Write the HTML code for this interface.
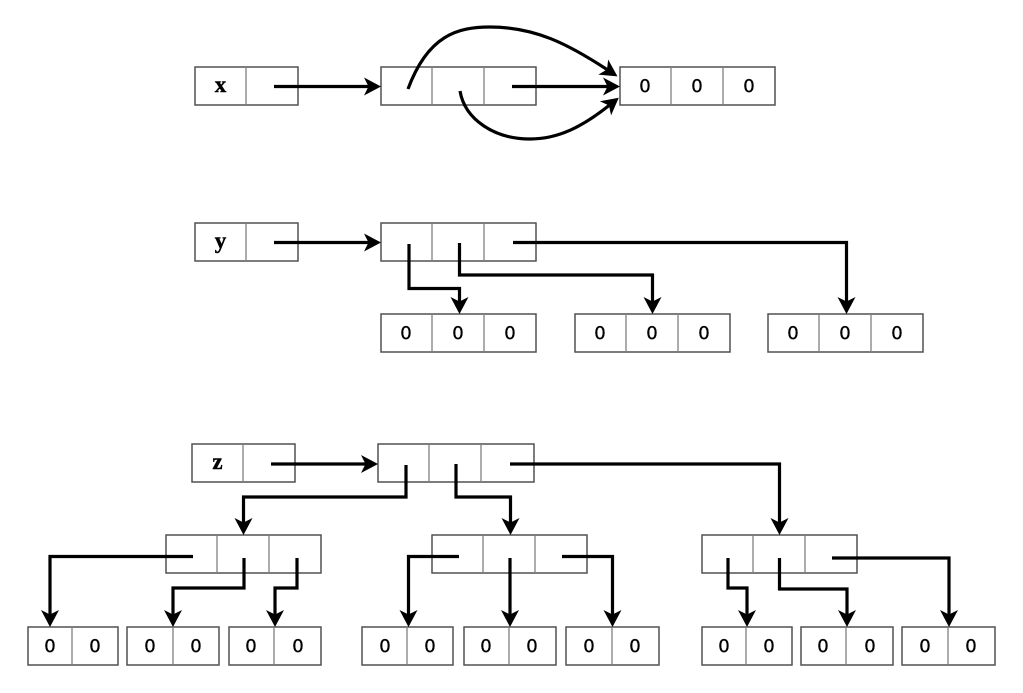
<!DOCTYPE html>
<html>
<head>
<meta charset="utf-8">
<style>
html,body{margin:0;padding:0;background:#fff;}
svg{display:block;}
.b{fill:#fff;stroke:#505050;stroke-width:1.5;}
.d{stroke:#808080;stroke-width:1.3;fill:none;}
.a{fill:none;stroke:#000;stroke-width:3.2;marker-end:url(#h);}
text{font-family:"DejaVu Sans",sans-serif;font-size:18px;text-anchor:middle;fill:#000;stroke:#000;stroke-width:.35;}
text.l{font-family:"Liberation Serif",serif;font-weight:bold;font-size:23px;stroke-width:.4;}
</style>
</head>
<body>
<svg width="1023" height="693" viewBox="0 0 1023 693" xmlns="http://www.w3.org/2000/svg">
<defs>
<marker id="h" markerUnits="userSpaceOnUse" markerWidth="24" markerHeight="24" refX="4.500" refY="12" orient="auto">
<path d="M0 3L17 12L0 21L4.500 12Z" fill="#000"/>
</marker>
</defs>

<!-- row x -->
<rect class="b" x="195" y="67" width="103" height="38"/><path class="d" d="M246 67V105"/>
<text class="l" x="220.500" y="92">x</text>
<rect class="b" x="381" y="67" width="155" height="38"/><path class="d" d="M432 67V105M484 67V105"/>
<rect class="b" x="620" y="67" width="155" height="38"/><path class="d" d="M671 67V105M723 67V105"/>
<text x="645" y="92">0</text><text x="697" y="92">0</text><text x="749" y="92">0</text>

<!-- row y -->
<rect class="b" x="195" y="223" width="103" height="38"/><path class="d" d="M246 223V261"/>
<text class="l" x="220.500" y="248">y</text>
<rect class="b" x="381" y="223" width="155" height="38"/><path class="d" d="M432 223V261M484 223V261"/>
<rect class="b" x="381" y="314" width="155" height="38"/><path class="d" d="M432 314V352M484 314V352"/>
<text x="406" y="339">0</text><text x="458" y="339">0</text><text x="510" y="339">0</text>
<rect class="b" x="575" y="314" width="155" height="38"/><path class="d" d="M626 314V352M678 314V352"/>
<text x="600" y="339">0</text><text x="652" y="339">0</text><text x="704" y="339">0</text>
<rect class="b" x="768" y="314" width="155" height="38"/><path class="d" d="M819 314V352M871 314V352"/>
<text x="793" y="339">0</text><text x="845" y="339">0</text><text x="897" y="339">0</text>

<!-- row z -->
<rect class="b" x="192" y="444" width="103" height="38"/><path class="d" d="M243 444V482"/>
<text class="l" x="217.500" y="469">z</text>
<rect class="b" x="378" y="444" width="156" height="38"/><path class="d" d="M429 444V482M481 444V482"/>

<!-- mid row -->
<rect class="b" x="166" y="535" width="155" height="38"/><path class="d" d="M217 535V573M269 535V573"/>
<rect class="b" x="432" y="535" width="155" height="38"/><path class="d" d="M483 535V573M535 535V573"/>
<rect class="b" x="702" y="535" width="155" height="38"/><path class="d" d="M753 535V573M805 535V573"/>

<!-- bottom row -->
<rect class="b" x="28" y="627" width="90" height="38"/><path class="d" d="M72 627V665"/>
<text x="50" y="652">0</text><text x="95" y="652">0</text>
<rect class="b" x="127" y="627" width="92" height="38"/><path class="d" d="M173 627V665"/>
<text x="150" y="652">0</text><text x="196" y="652">0</text>
<rect class="b" x="229" y="627" width="92" height="38"/><path class="d" d="M274 627V665"/>
<text x="251" y="652">0</text><text x="298" y="652">0</text>
<rect class="b" x="362" y="627" width="91" height="38"/><path class="d" d="M407 627V665"/>
<text x="385" y="652">0</text><text x="430" y="652">0</text>
<rect class="b" x="464" y="627" width="92" height="38"/><path class="d" d="M509 627V665"/>
<text x="486" y="652">0</text><text x="532" y="652">0</text>
<rect class="b" x="566" y="627" width="93" height="38"/><path class="d" d="M612 627V665"/>
<text x="589" y="652">0</text><text x="635" y="652">0</text>
<rect class="b" x="702" y="627" width="90" height="38"/><path class="d" d="M746 627V665"/>
<text x="724" y="652">0</text><text x="769" y="652">0</text>
<rect class="b" x="801" y="627" width="92" height="38"/><path class="d" d="M846 627V665"/>
<text x="823" y="652">0</text><text x="870" y="652">0</text>
<rect class="b" x="902" y="627" width="93" height="38"/><path class="d" d="M948 627V665"/>
<text x="925" y="652">0</text><text x="971" y="652">0</text>

<!-- connectors x -->
<path class="a" d="M274 86.500H368.500"/>
<path class="a" d="M512 86.500H607.500"/>
<path class="a" d="M408 89C428 35 458 27 490 27C535 27 568 44 607 69.500"/>
<path class="a" d="M460 91C465 120 495 139 530 139C558 139 582 127 609 105.500"/>

<!-- connectors y -->
<path class="a" d="M274 242.500H368.500"/>
<path class="a" d="M409 244V288.500H459.500V301.500"/>
<path class="a" d="M459.500 243V275H652.500V301.500"/>
<path class="a" d="M513 242.500H846.500V301.500"/>

<!-- connectors z -->
<path class="a" d="M271 464H365.500"/>
<path class="a" d="M406 465V497H243.500V522.500"/>
<path class="a" d="M456 464V497H510.500V522.500"/>
<path class="a" d="M510 464H779.500V522.500"/>

<!-- connectors mid-left -->
<path class="a" d="M193 556.500H50V614.500"/>
<path class="a" d="M244 558V588H173V614.500"/>
<path class="a" d="M297 558V588H275V614.500"/>

<!-- connectors mid-center -->
<path class="a" d="M459 556.500H408.500V614.500"/>
<path class="a" d="M510 558V614.500"/>
<path class="a" d="M562 556.500H612.500V614.500"/>

<!-- connectors mid-right -->
<path class="a" d="M728 558V588H747V614.500"/>
<path class="a" d="M779.500 558V589H847V614.500"/>
<path class="a" d="M832 558H949V614.500"/>
</svg>
</body>
</html>
